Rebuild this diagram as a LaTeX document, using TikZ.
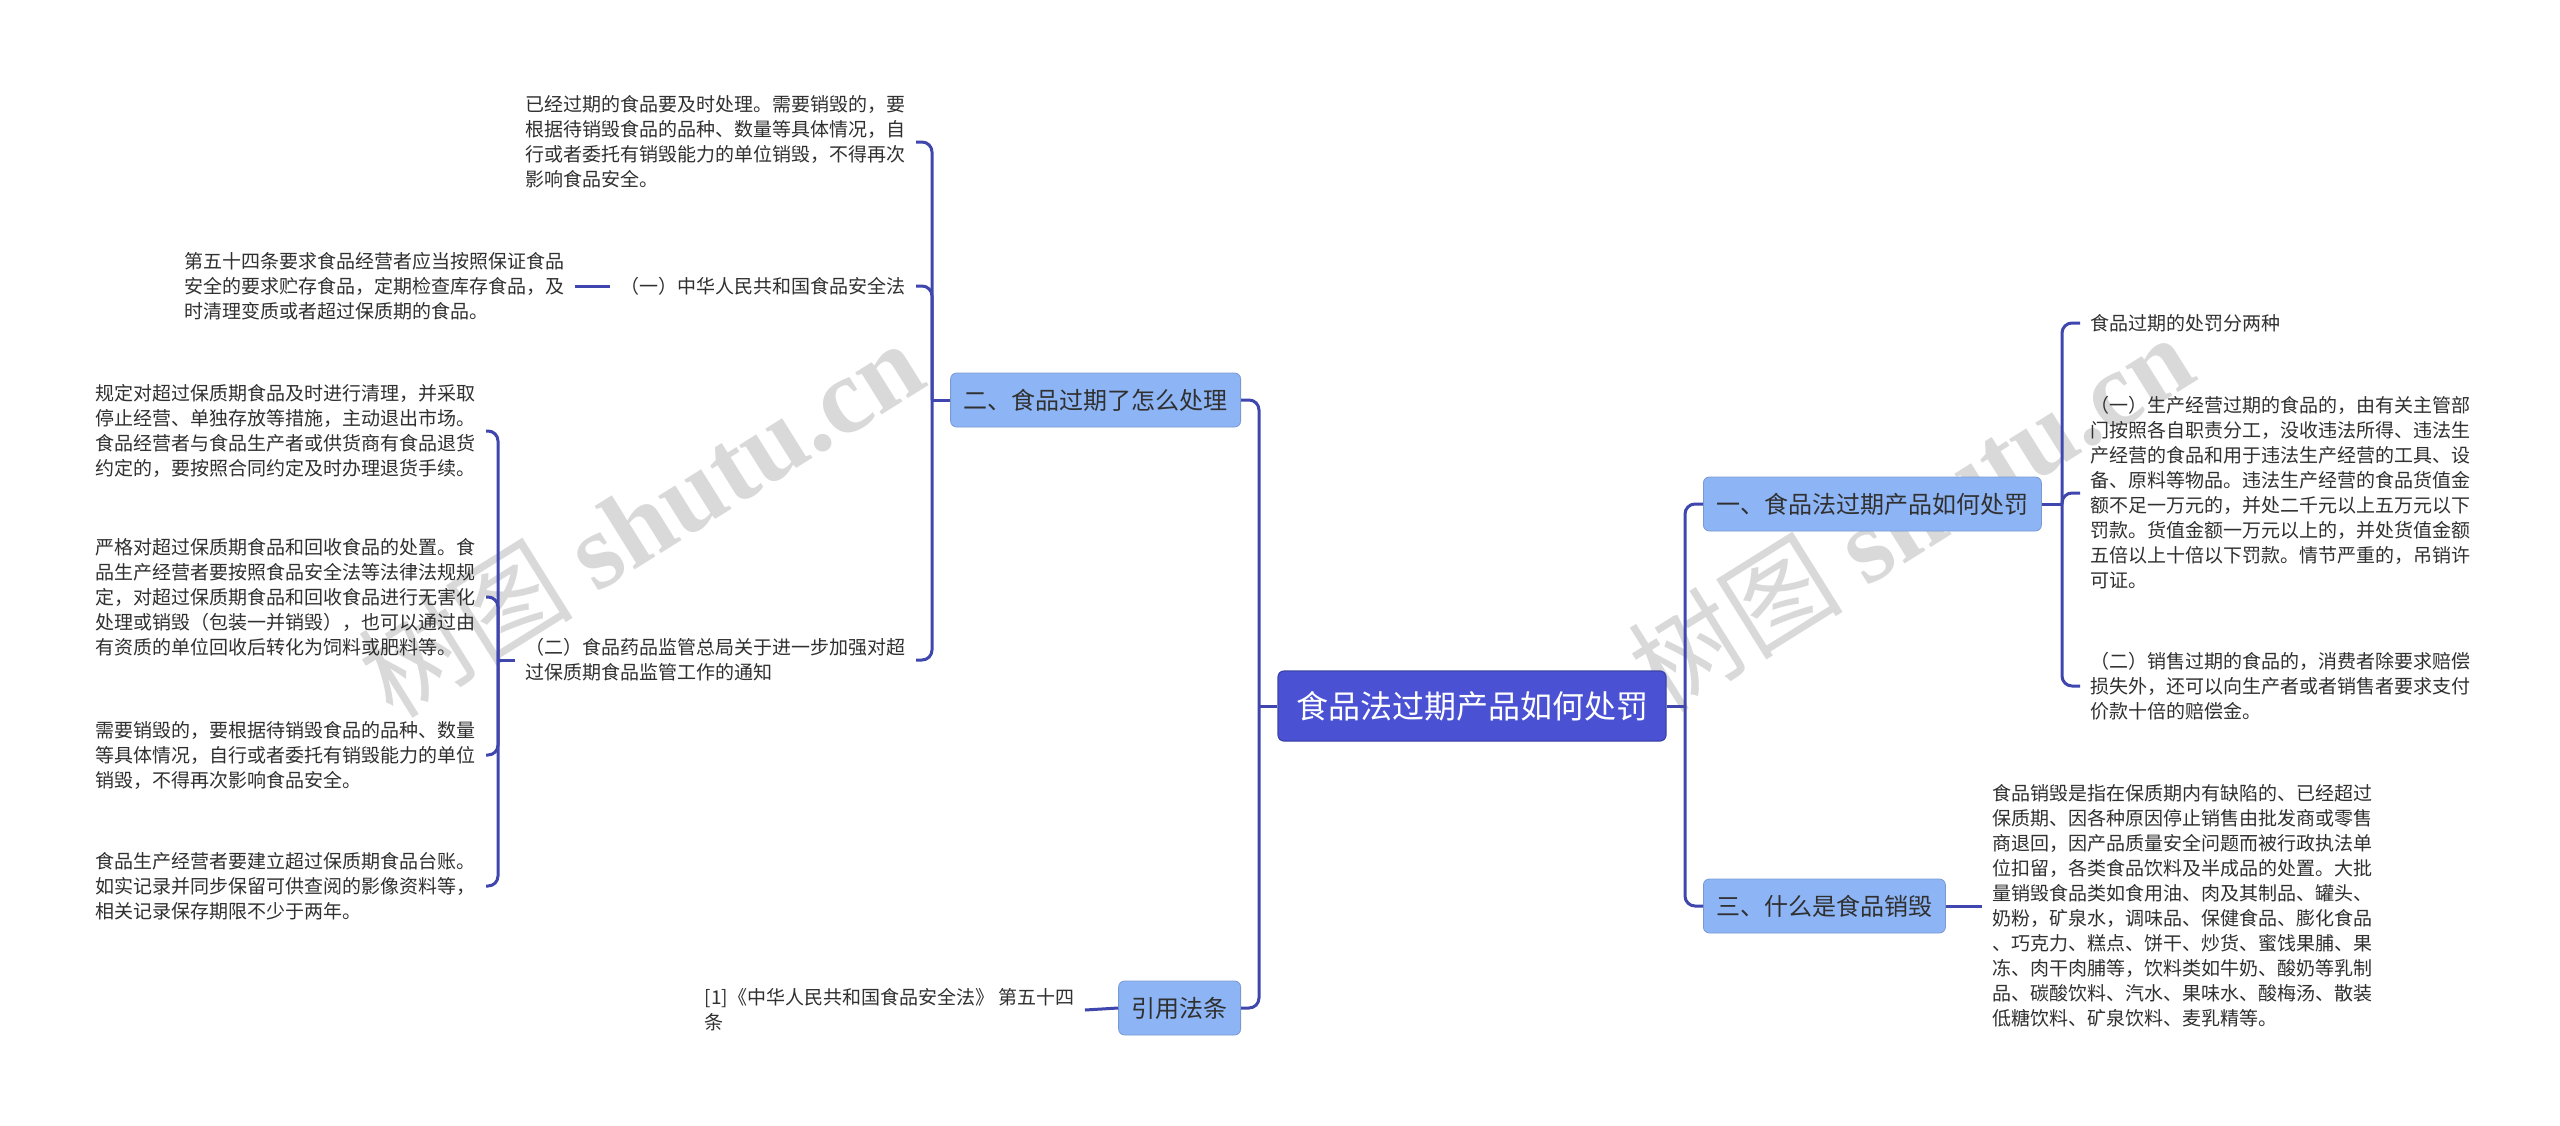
\documentclass[tikz,border=0pt]{standalone}
\usepackage{fontspec}
\setmainfont{Noto Sans CJK SC}
\newfontfamily\wmfont{Liberation Serif}
\usepackage{tikz}
\usetikzlibrary{positioning}
\definecolor{rootblue}{HTML}{4A52D3}
\definecolor{topicblue}{HTML}{8DB5F6}
\definecolor{linkblue}{HTML}{3F46AE}
\definecolor{leafgray}{HTML}{303030}

\begin{document}
\begin{tikzpicture}[
x=0.5pt, y=-0.5pt,
root/.style={
rectangle,
rounded corners=3pt,
fill=rootblue,
draw=rootblue!80!black,
line width=0.6pt,
text=white,
font=\fontsize{16pt}{20pt}\selectfont,
inner xsep=9pt,
minimum height=35pt},
topic/.style={
rectangle,
rounded corners=3pt,
fill=topicblue,
draw=topicblue!85!black,
line width=0.4pt,
text=leafgray,
font=\fontsize{12pt}{15pt}\selectfont,
inner xsep=6.5pt,
minimum height=27pt},
leaf/.style={align=left, text=leafgray, font=\fontsize{9.5pt}{12.5pt}\selectfont, inner xsep=5pt, inner ysep=2pt},
link/.style={draw=linkblue, line width=1.5pt, rounded corners=5pt},
wm/.style={text=black!15, font=\fontsize{54pt}{54pt}\selectfont, rotate=32}
]
\path[use as bounding box, fill=white] (0,0) rectangle (2560,1125);
\node[wm] (wm1) at (640,518) {树图 {\wmfont\bfseries shutu.cn}};
\node[wm] (wm2) at (1910,512) {树图 {\wmfont\bfseries shutu.cn}};

\node[root] (c) at (1472,706) {食品法过期产品如何处罚};
      \node[topic, anchor=west] (t1) at (1703,504) {一、食品法过期产品如何处罚};
      \node[topic, anchor=west] (t3) at (1703,906) {三、什么是食品销毁};
      \node[topic, anchor=east] (t2) at (1241,400) {二、食品过期了怎么处理};
      \node[topic, anchor=east] (t4) at (1241,1008) {引用法条};

      \node[leaf, anchor=west] (r1) at (2080,323) {食品过期的处罚分两种};
      \node[leaf, anchor=west] (r2) at (2080,493) {（一）生产经营过期的食品的，由有关主管部\\门按照各自职责分工，没收违法所得、违法生\\产经营的食品和用于违法生产经营的工具、设\\备、原料等物品。违法生产经营的食品货值金\\额不足一万元的，并处二千元以上五万元以下\\罚款。货值金额一万元以上的，并处货值金额\\五倍以上十倍以下罚款。情节严重的，吊销许\\可证。};
      \node[leaf, anchor=west] (r3) at (2080,686) {（二）销售过期的食品的，消费者除要求赔偿\\损失外，还可以向生产者或者销售者要求支付\\价款十倍的赔偿金。};
      \node[leaf, anchor=west] (r4) at (1982,906) {食品销毁是指在保质期内有缺陷的、已经超过\\保质期、因各种原因停止销售由批发商或零售\\商退回，因产品质量安全问题而被行政执法单\\位扣留，各类食品饮料及半成品的处置。大批\\量销毁食品类如食用油、肉及其制品、罐头、\\奶粉，矿泉水，调味品、保健食品、膨化食品\\、巧克力、糕点、饼干、炒货、蜜饯果脯、果\\冻、肉干肉脯等，饮料类如牛奶、酸奶等乳制\\品、碳酸饮料、汽水、果味水、酸梅汤、散装\\低糖饮料、矿泉饮料、麦乳精等。};

      \node[leaf, anchor=east] (l1) at (916,142) {已经过期的食品要及时处理。需要销毁的，要\\根据待销毁食品的品种、数量等具体情况，自\\行或者委托有销毁能力的单位销毁，不得再次\\影响食品安全。};
      \node[leaf, anchor=east] (l2) at (916,286) {（一）中华人民共和国食品安全法};
      \node[leaf, anchor=east] (l21) at (575,286) {第五十四条要求食品经营者应当按照保证食品\\安全的要求贮存食品，定期检查库存食品，及\\时清理变质或者超过保质期的食品。};
      \node[leaf, anchor=east] (l3) at (916,660) {（二）食品药品监管总局关于进一步加强对超\\过保质期食品监管工作的通知};
      \node[leaf, anchor=east] (l31) at (486,431) {规定对超过保质期食品及时进行清理，并采取\\停止经营、单独存放等措施，主动退出市场。\\食品经营者与食品生产者或供货商有食品退货\\约定的，要按照合同约定及时办理退货手续。};
      \node[leaf, anchor=east] (l32) at (486,597) {严格对超过保质期食品和回收食品的处置。食\\品生产经营者要按照食品安全法等法律法规规\\定，对超过保质期食品和回收食品进行无害化\\处理或销毁（包装一并销毁），也可以通过由\\有资质的单位回收后转化为饲料或肥料等。};
      \node[leaf, anchor=east] (l33) at (486,755) {需要销毁的，要根据待销毁食品的品种、数量\\等具体情况，自行或者委托有销毁能力的单位\\销毁，不得再次影响食品安全。};
      \node[leaf, anchor=east] (l34) at (486,886) {食品生产经营者要建立超过保质期食品台账。\\如实记录并同步保留可供查阅的影像资料等，\\相关记录保存期限不少于两年。};
      \node[leaf, anchor=east] (l41) at (1085,1010) {[1]《中华人民共和国食品安全法》 第五十四\\条};

      \coordinate (rj) at (1685,706);
      \coordinate (lj) at (1259,706);
      \coordinate (j1) at (2062,504);
      \coordinate (j2) at (932,400);
      \coordinate (j3) at (498,660);
      \foreach \i/\j in {c.east/rj, c.west/lj, t1.east/j1, t2.west/j2, l3.west/j3,
      t3.east/r4.west, t4.west/l41.east, l2.west/l21.east}
       \draw [link] (\i) -- (\j);
      \foreach \i/\j in {rj/t1.west, rj/t3.west, lj/t2.east, lj/t4.east,
      j1/r1.west, j1/r2.west, j1/r3.west,
      j2/l1.east, j2/l2.east, j2/l3.east,
      j3/l31.east, j3/l32.east, j3/l33.east, j3/l34.east}
       \draw [link] (\i) |- (\j);
\end{tikzpicture}
\end{document}
